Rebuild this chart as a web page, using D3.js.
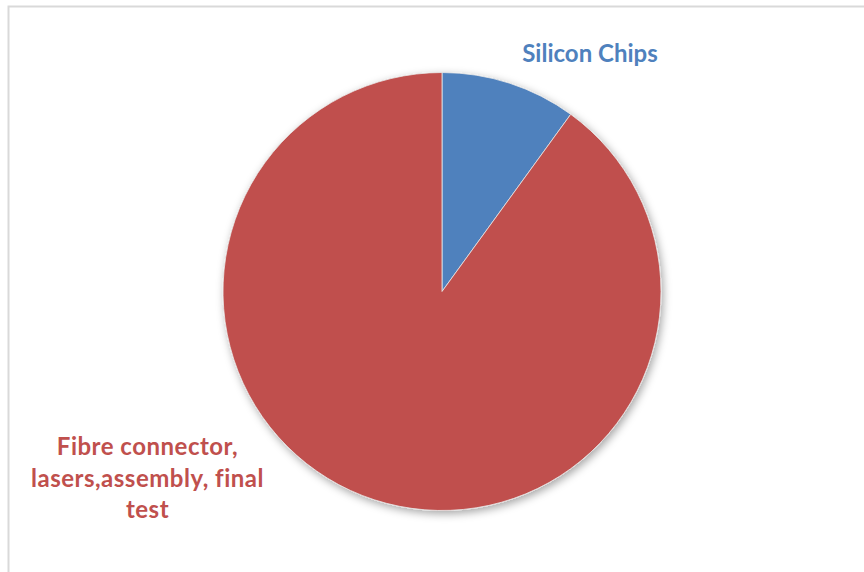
<!DOCTYPE html>
<html>
<head>
<meta charset="utf-8">
<script src="https://cdn.jsdelivr.net/npm/d3@7/dist/d3.min.js"></script>
<style>
  html, body { margin: 0; padding: 0; background: #fff; }
  svg { display: block; }
</style>
</head>
<body>
<script>
// Cost share of a transceiver: chips vs. everything else
const categories = ["Silicon Chips", "Fibre connector, lasers,assembly, final test"];
const values = [10, 90];
const colors = ["#4F81BD", "#C0504D"];
// Label lines for each slice (manual breaks as laid out on the chart)
const labelLines = [
  ["Silicon Chips"],
  ["Fibre connector,", "lasers,assembly, final", "test"]
];

const W = 864, H = 572;
const cx = 442, cy = 291.5, R = 219;

const svg = d3.select("body").append("svg")
  .attr("width", W).attr("height", H);

const defs = svg.append("defs");
const f = defs.append("filter").attr("id", "pieShadow")
  .attr("x", "-20%").attr("y", "-20%").attr("width", "140%").attr("height", "140%");
f.append("feDropShadow")
  .attr("dx", 2).attr("dy", 3).attr("stdDeviation", 4.5)
  .attr("flood-color", "#000").attr("flood-opacity", 0.35);

// Chart frame
svg.append("rect")
  .attr("x", 8.5).attr("y", 6.5)
  .attr("width", W + 20).attr("height", H + 20)
  .attr("fill", "none").attr("stroke", "#d9d9d9").attr("stroke-width", 2);

const pie = d3.pie().sort(null).value(d => d)
  .startAngle(0).endAngle(2 * Math.PI);
const arcs = pie(values);
const arc = d3.arc().innerRadius(0).outerRadius(R);

const g = svg.append("g")
  .attr("transform", `translate(${cx},${cy})`)
  .attr("filter", "url(#pieShadow)");

g.selectAll("path").data(arcs).enter().append("path")
  .attr("d", arc)
  .attr("fill", (d, i) => colors[i])
  .attr("stroke", "#e8e8e8")
  .attr("stroke-width", 0.8);

// Labels placed outside the pie, coloured like their slices
const labelPos = [
  { x: 590, y: 62 },
  { x: 147.5, y: 455 }
];
const lineH = 31.5;
const labels = svg.append("g")
  .style("font-family", "Lato, 'Open Sans', sans-serif")
  .style("font-weight", "bold")
  .style("font-size", "24px");

labelLines.forEach((lines, i) => {
  const t = labels.append("text")
    .attr("x", labelPos[i].x).attr("y", labelPos[i].y)
    .attr("text-anchor", "middle")
    .attr("fill", colors[i])
    .style("letter-spacing", i === 1 ? "0.5px" : "0px");
  lines.forEach((ln, j) => {
    t.append("tspan").attr("x", labelPos[i].x)
      .attr("y", labelPos[i].y + j * lineH).text(ln);
  });
});
</script>
</body>
</html>
